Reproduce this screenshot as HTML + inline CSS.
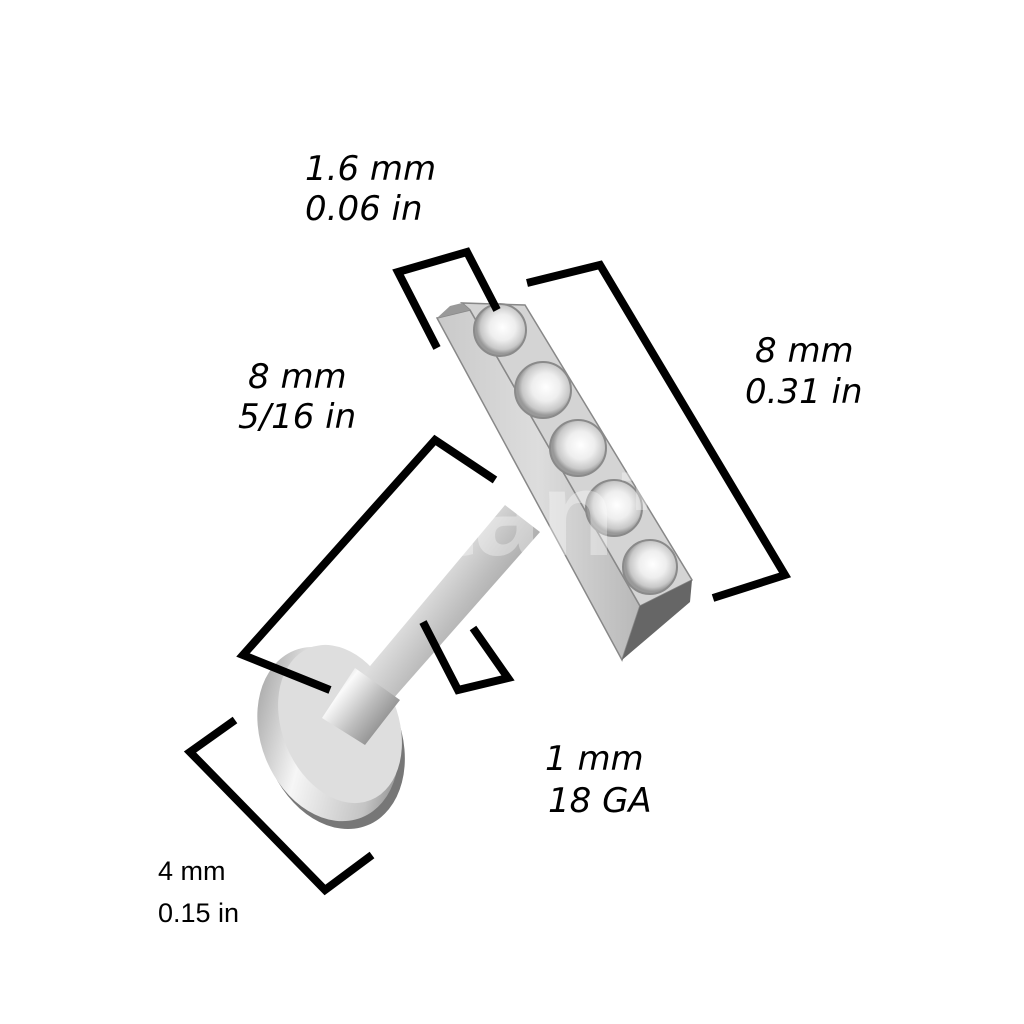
<!DOCTYPE html>
<html><head><meta charset="utf-8"><style>
body{margin:0;background:#fff;width:1024px;height:1024px;overflow:hidden}
svg{display:block}
.t{font-family:"DejaVu Sans","Liberation Sans",sans-serif;font-style:italic;font-size:34px;fill:#000}
.n{font-family:"Liberation Sans",sans-serif;font-size:27px;fill:#000}
</style></head><body>
<svg width="1024" height="1024" viewBox="0 0 1024 1024">
<defs>
<linearGradient id="sh" x1="0" y1="0" x2="1" y2="1">
<stop offset="0" stop-color="#888"/><stop offset=".4" stop-color="#f6f6f6"/><stop offset=".75" stop-color="#c4c4c4"/><stop offset="1" stop-color="#666"/></linearGradient>
<linearGradient id="shaft" x1="0" y1="0" x2="1" y2="0.8">
<stop offset="0" stop-color="#aaa"/><stop offset=".3" stop-color="#fafafa"/><stop offset=".6" stop-color="#bdbdbd"/><stop offset="1" stop-color="#777"/></linearGradient>
<radialGradient id="gem" cx=".55" cy=".45"><stop offset="0" stop-color="#fff"/><stop offset=".5" stop-color="#eee"/><stop offset=".85" stop-color="#c8c8c8"/><stop offset="1" stop-color="#999"/></radialGradient>
<linearGradient id="side" x1="0" y1="0" x2="1" y2="0"><stop offset="0" stop-color="#c9c9c9"/><stop offset=".5" stop-color="#ddd"/><stop offset="1" stop-color="#b8b8b8"/></linearGradient>
</defs>
<!-- disc -->
<ellipse cx="333" cy="740" rx="68" ry="92" transform="rotate(-22 333 740)" fill="#777"/>
<ellipse cx="328" cy="734" rx="67" ry="90" transform="rotate(-22 328 734)" fill="url(#sh)"/>
<ellipse cx="340" cy="724" rx="58" ry="82" transform="rotate(-22 340 724)" fill="#dedede"/>
<!-- shaft -->
<polygon points="505,505 540,532 392,700 360,678" fill="url(#shaft)"/>
<polygon points="355,668 400,700 365,745 322,718" fill="url(#shaft)"/>
<!-- bar -->
<polygon points="437,318 470,310 640,606 622,660" fill="url(#side)" stroke="#888" stroke-width="1.5"/>
<polygon points="470,310 462,303 525,305 692,580 640,606" fill="#d4d4d4" stroke="#888" stroke-width="1.5"/>
<polygon points="437,318 450,306 462,303 470,310" fill="#999"/>
<polygon points="622,660 640,606 692,580 690,602" fill="#666"/>
<g stroke="#8a8a8a" stroke-width="2" fill="url(#gem)">
<circle cx="500" cy="330" r="26"/><circle cx="543" cy="390" r="28"/><circle cx="578" cy="448" r="28"/><circle cx="614" cy="508" r="28"/><circle cx="650" cy="567" r="27"/>
</g>
<text x="330" y="555" font-family="Liberation Sans" font-weight="bold" font-size="120" fill="#fff" fill-opacity=".35">Titan™</text>
<!-- brackets -->
<g fill="none" stroke="#000" stroke-width="8" stroke-linejoin="miter">
<polyline points="437,348 398,272 467,252 497,310"/>
<polyline points="527,283 600,265 785,575 713,598"/>
<polyline points="495,480 435,440 243,655 330,690"/>
<polyline points="423,622 458,690 508,678 473,628"/>
<polyline points="235,720 190,752 325,890 372,855"/>
</g>
<text class="t" x="305" y="180">1.6 mm</text><text class="t" x="305" y="220">0.06 in</text>
<text class="t" x="248" y="388">8 mm</text><text class="t" x="238" y="428">5/16 in</text>
<text class="t" x="755" y="362">8 mm</text><text class="t" x="745" y="403">0.31 in</text>
<text class="t" x="545" y="770">1 mm</text><text class="t" x="548" y="812">18 GA</text>
<text class="n" x="158" y="880">4 mm</text><text class="n" x="158" y="922">0.15 in</text>
</svg>
</body></html>
